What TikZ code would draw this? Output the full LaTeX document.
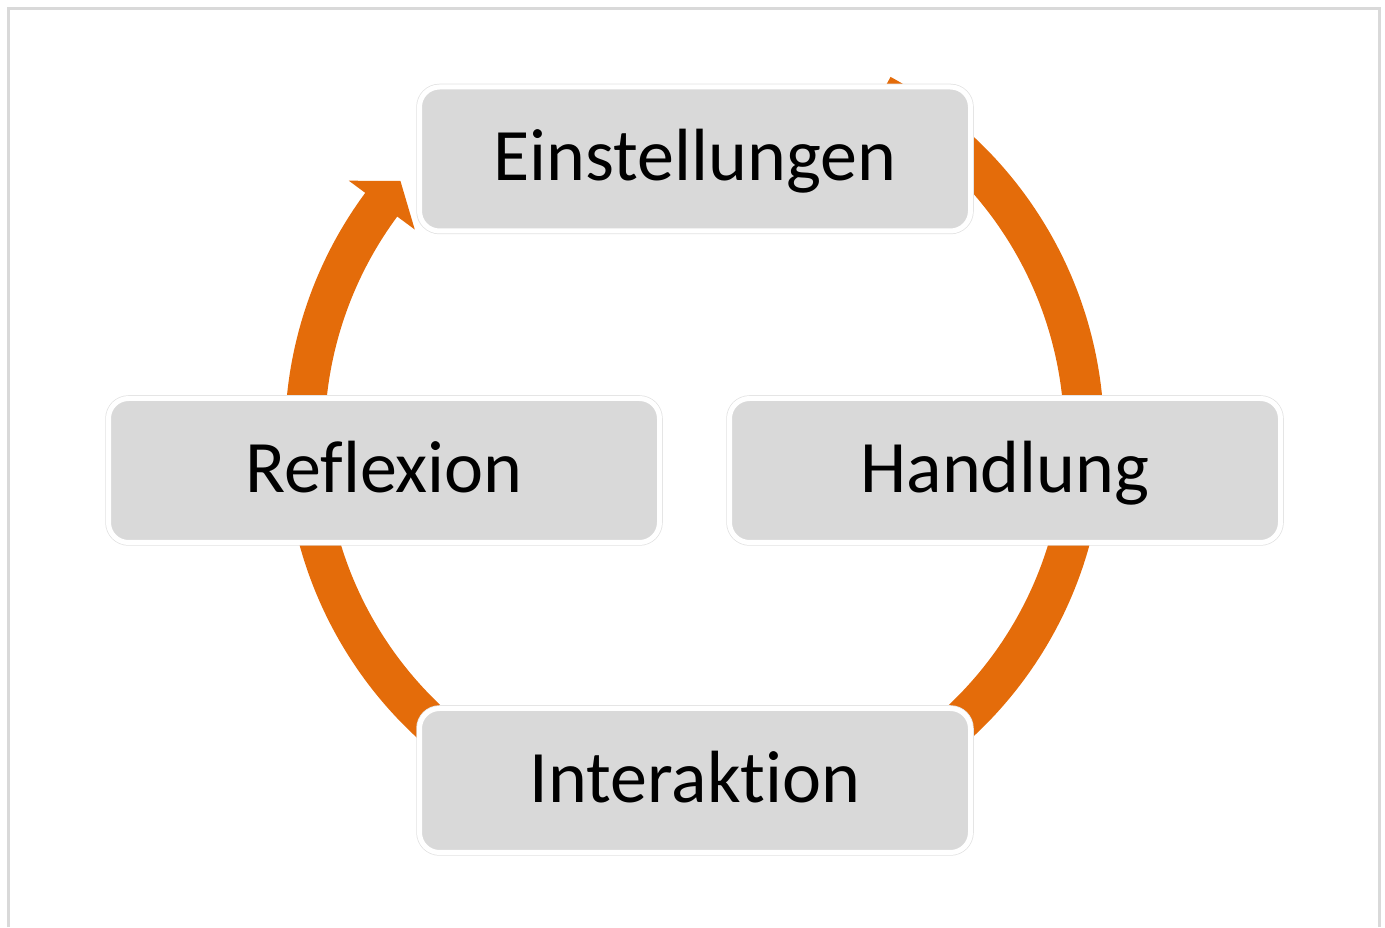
\documentclass[tikz,border=0pt]{standalone}
\usepackage{fontspec}
\setmainfont{Carlito}[RawFeature={-liga}]
\definecolor{boxgray}{HTML}{D9D9D9}
\definecolor{rimgray}{HTML}{E2E2E2}
\definecolor{framegray}{HTML}{D9D9D9}
\definecolor{cycorange}{HTML}{E46C0A}
\newcommand\cycarrow[3]{%
  \fill[cyc] ([shift={(#1:409.6pt)}]C) arc[start angle=#1, end angle=#2, radius=409.6pt]
    -- ([shift={(#2:430pt)}]C) -- ([shift={(#3:389.7pt)}]C) -- ([shift={(#2:348pt)}]C)
    -- ([shift={(#2:369.8pt)}]C) arc[start angle=#2, end angle=#1, radius=369.8pt] -- cycle;}
\begin{document}
\begin{tikzpicture}[x=1pt,y=1pt,
  stage/.style={rectangle, rounded corners=20pt, minimum width=551pt, minimum height=144pt,
    inner sep=0pt, fill=boxgray, draw=white, line width=5pt,
    preaction={draw=rimgray, line width=6.5pt},
    font=\fontsize{74}{84}\selectfont, text=black, text height=53pt, text depth=9pt},
  cyc/.style={fill=cycorange}]
\useasboundingbox (0,0) rectangle (1385,927);
\draw[framegray, line width=3pt] (8.5,0) -- (8.5,918.5) -- (1379.5,918.5) -- (1379.5,0);
\coordinate (C) at (694.5,490.5);
% cycle arrows
\cycarrow{190}{143.5}{139}
\cycarrow{61.4}{1.5}{-3}
\cycarrow{-10}{-57.5}{-62}
\cycarrow{242}{186.5}{182}
% stages
\node[stage] (einst) at (695,768) {Einstellungen};
\node[stage] (refl) at (384,456.5) {Reflexion};
\node[stage] (handl) at (1005,456.5) {Handlung};
\node[stage] (inter) at (695,146.5) {Interaktion};
\end{tikzpicture}
\end{document}
